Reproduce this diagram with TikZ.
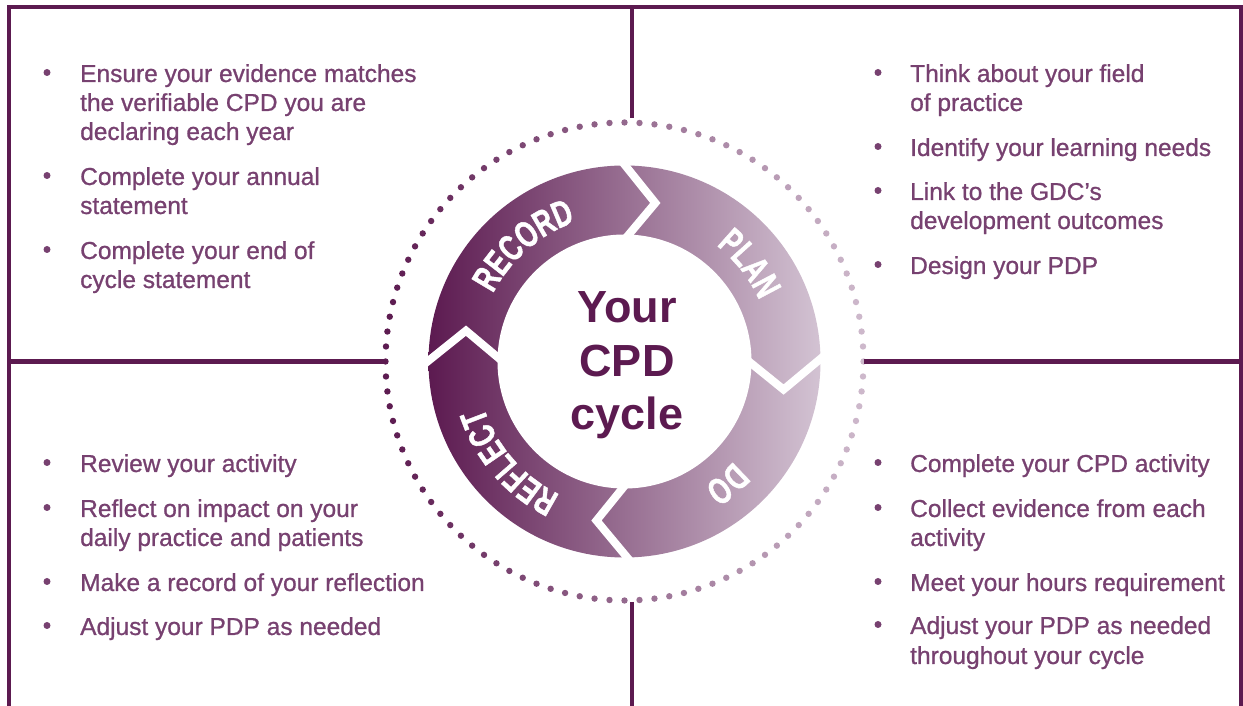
\documentclass[tikz,border=0pt]{standalone}
\usepackage{fontspec}
\setmainfont{Liberation Sans}
\newfontfamily\bodyfont[FakeBold=0.9]{Liberation Sans}
\newfontfamily\condfont[FakeStretch=0.7,FakeBold=1.2,LetterSpace=6]{Liberation Sans Bold}
\usetikzlibrary{decorations.text,calc}
\definecolor{dpurple}{HTML}{5C1A50}
\definecolor{lpurple}{HTML}{D3C3D3}
\definecolor{txtc}{HTML}{774170}
\definecolor{dotlight}{HTML}{CDB8CB}
\begin{document}
\begin{tikzpicture}[x=1pt,y=1pt,
  frameline/.style={draw=dpurple,line width=4.5pt,line join=miter},
  txt/.style={anchor=base west,inner sep=0pt,font=\bodyfont\fontsize{24.5}{29}\selectfont,text=txtc},
  bul/.style={circle,fill=txtc,inner sep=0pt,minimum size=7pt},
  ctr/.style={anchor=base,inner sep=0pt,font=\bfseries\fontsize{45}{54}\selectfont,text=dpurple},
  gapline/.style={draw=white,line width=8pt,line join=miter},
  arclabel/.style={decorate,decoration={text along path,text align=center,text color=white,text={#1}}}]
\useasboundingbox (0,0) rectangle (1243,706);
\coordinate (C) at (624.5,344.5);

% ring
\shade[left color=dpurple,right color=lpurple] (C) circle[radius=196];
\fill[white] (C) circle[radius=127];
\foreach \b in {92,3,273,182} {
  \draw[gapline] ($(C)+(\b:206)$) -- ($(C)+(\b-13:161.5)$) -- ($(C)+(\b:117)$);
}
\path[arclabel={|\condfont\fontsize{37}{37}\selectfont|RECORD}] ($(C)+(201:148)$) arc[start angle=201,end angle=61,radius=148];
\path[arclabel={|\condfont\fontsize{37}{37}\selectfont|PLAN}] ($(C)+(108:148)$) arc[start angle=108,end angle=-32,radius=148];
\path[arclabel={|\condfont\fontsize{37}{37}\selectfont|DO}] ($(C)+(20:148)$) arc[start angle=20,end angle=-120,radius=148];
\path[arclabel={|\condfont\fontsize{37}{37}\selectfont|REFLECT}] ($(C)+(291:148)$) arc[start angle=291,end angle=151,radius=148];

% dotted circle
\foreach \i in {0,...,99} {
  \pgfmathsetmacro\a{90+3.6*\i}
  \pgfmathtruncatemacro\p{50*(1-cos(\a))}
  \fill[dpurple!\p!dotlight] ($(C)+(\a:239)$) circle[radius=3.2];
}

% frame
\coordinate (fbl) at (9,0);
\coordinate (ftl) at (9,699);
\coordinate (ftr) at (1241,699);
\coordinate (fbr) at (1241,0);
\draw[frameline] (fbl) -- (ftl) -- (ftr) -- (fbr);
\coordinate (hl) at (9,344.5);
\coordinate (hlend) at (385.5,344.5);
\coordinate (hrend) at (863.5,344.5);
\coordinate (hr) at (1241,344.5);
\draw[frameline] (hl) -- (hlend);
\draw[frameline] (hrend) -- (hr);
\coordinate (vt) at (632,699);
\coordinate (vtend) at (632,588);
\coordinate (vbend) at (632,104);
\coordinate (vb) at (632,0);
\draw[frameline] (vt) -- (vtend);
\draw[frameline] (vbend) -- (vb);

% centre text
\node[ctr] (c1) at (627,383) {Your};
\node[ctr] (c2) at (627,329) {CPD};
\node[ctr] (c3) at (627,276) {cycle};

% top left
\node[bul] (b1) at (47,633.5) {};
\node[txt] (t1a) at (80,624) {Ensure your evidence matches};
\node[txt] (t1b) at (80,595) {the verifiable CPD you are};
\node[txt] (t1c) at (80,566) {declaring each year};
\node[bul] (b2) at (47,530.5) {};
\node[txt] (t2a) at (80,521) {Complete your annual};
\node[txt] (t2b) at (80,492) {statement};
\node[bul] (b3) at (47,456.5) {};
\node[txt] (t3a) at (80,447) {Complete your end of};
\node[txt] (t3b) at (80,418) {cycle statement};

% top right
\node[bul] (b4) at (878,633.5) {};
\node[txt] (t4a) at (910,624) {Think about your field};
\node[txt] (t4b) at (910,595) {of practice};
\node[bul] (b5) at (878,559.5) {};
\node[txt] (t5a) at (910,550) {Identify your learning needs};
\node[bul] (b6) at (878,515.5) {};
\node[txt] (t6a) at (910,506) {Link to the GDC’s};
\node[txt] (t6b) at (910,477) {development outcomes};
\node[bul] (b7) at (878,441.5) {};
\node[txt] (t7a) at (910,432) {Design your PDP};

% bottom left
\node[bul] (b8) at (47,243.5) {};
\node[txt] (t8a) at (80,234) {Review your activity};
\node[bul] (b9) at (47,198.5) {};
\node[txt] (t9a) at (80,189) {Reflect on impact on your};
\node[txt] (t9b) at (80,160) {daily practice and patients};
\node[bul] (b10) at (47,124.5) {};
\node[txt] (t10a) at (80,115) {Make a record of your reflection};
\node[bul] (b11) at (47,80.5) {};
\node[txt] (t11a) at (80,71) {Adjust your PDP as needed};

% bottom right
\node[bul] (b12) at (878,243.5) {};
\node[txt] (t12a) at (910,234) {Complete your CPD activity};
\node[bul] (b13) at (878,198.5) {};
\node[txt] (t13a) at (910,189) {Collect evidence from each};
\node[txt] (t13b) at (910,160) {activity};
\node[bul] (b14) at (878,124.5) {};
\node[txt] (t14a) at (910,115) {Meet your hours requirement};
\node[bul] (b15) at (878,81.5) {};
\node[txt] (t15a) at (910,72) {Adjust your PDP as needed};
\node[txt] (t15b) at (910,42) {throughout your cycle};
\end{tikzpicture}
\end{document}
